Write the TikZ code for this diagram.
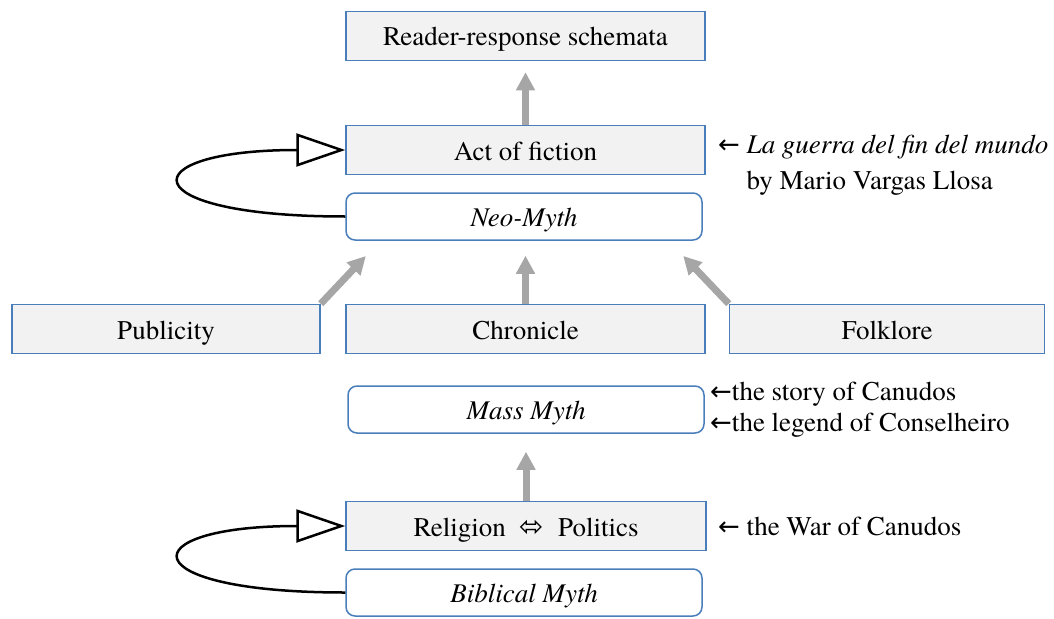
\documentclass[tikz,border=0pt]{standalone}
\usepackage{fontspec}
\setmainfont{TeX Gyre Termes}
\newfontfamily\symfont{DejaVu Sans}
\usepackage{tikz}
\usetikzlibrary{arrows.meta, positioning}
\usepackage{xcolor}
\definecolor{boxblue}{RGB}{74, 126, 187}
\definecolor{boxgray}{RGB}{242, 242, 242}
\definecolor{arrowgray}{RGB}{166, 166, 166}
\newcommand{\bodyfont}{\fontsize{27}{31}\selectfont}
\newcommand{\larrow}{{\symfont\fontsize{26}{31}\selectfont ←}}

\begin{document}
\begin{tikzpicture}[
        x=1pt, y=-1pt,
        box/.style={draw=boxblue, fill=boxgray, line width=1.5pt,
                    minimum height=49pt, inner sep=0pt, text height=20pt,
                    text depth=0pt, font=\bodyfont},
        myth/.style={draw=boxblue, fill=white, rounded corners=9pt,
                     line width=1.5pt, minimum height=47pt, inner sep=0pt,
                     text height=20pt, text depth=0pt, font=\bodyfont\itshape},
        flow/.style={-{Triangle[length=18pt, width=18pt]}, line width=7pt,
                     arrowgray},
        selfloop/.style={-{Triangle[open, length=49pt, width=33pt, fill=white]},
                         line width=2.5pt, black},
        note/.style={align=left, anchor=west, inner sep=0pt, font=\bodyfont},
      ]
        \useasboundingbox (0,0) rectangle (1054,618);

        \node[box, minimum width=359pt] (rrs) at (525.5,36)
          {Reader-response schemata};
        \node[box, minimum width=359pt] (act) at (525.5,150) {Act of fiction};
        \node[myth, minimum width=356pt] (neo) at (524,216.5) {Neo-Myth};
        \node[box, minimum width=308pt] (pub) at (166,329) {Publicity};
        \node[box, minimum width=359pt] (chr) at (525.5,329) {Chronicle};
        \node[box, minimum width=315pt] (fol) at (887,329) {Folklore};
        \node[myth, minimum width=356pt] (mass) at (526,409.5) {Mass Myth};
        \node[box, minimum width=360pt] (rel) at (526,526)
          {Religion\hspace{14pt}{\symfont\fontsize{29}{30}\selectfont ⬄}\hspace{14pt}Politics};
        \node[myth, minimum width=356pt] (bib) at (524,592.5) {Biblical Myth};

        \node[note] (novel) at (718,165)
          {\larrow\ \textit{La guerra del fin del mundo}\\[5pt]
           \phantom{\larrow\ }by Mario Vargas Llosa};
        \node[note] (story) at (710,410)
          {\larrow the story of Canudos\\\larrow the legend of Conselheiro};
        \node[note] (war) at (718,526) {\larrow\ the War of Canudos};

        \draw[flow, shorten >=11pt] (act) -- (rrs);
        \draw[flow, shorten >=21pt] (pub.north east) -- ([xshift=35pt]neo.south west);
        \draw[flow, shorten >=15pt] (chr.north) -- (chr.north |- neo.south);
        \draw[flow, shorten >=21pt] (fol.north west) -- ([xshift=-34pt]neo.south east);
        \draw[flow, shorten >=18pt] (rel) -- (mass);

        \draw[selfloop] (neo.west) to[out=180, in=180, distance=216pt] (act.west);
        \draw[selfloop] (bib.west) to[out=180, in=180, distance=216pt] (rel.west);
      \end{tikzpicture}
\end{document}
